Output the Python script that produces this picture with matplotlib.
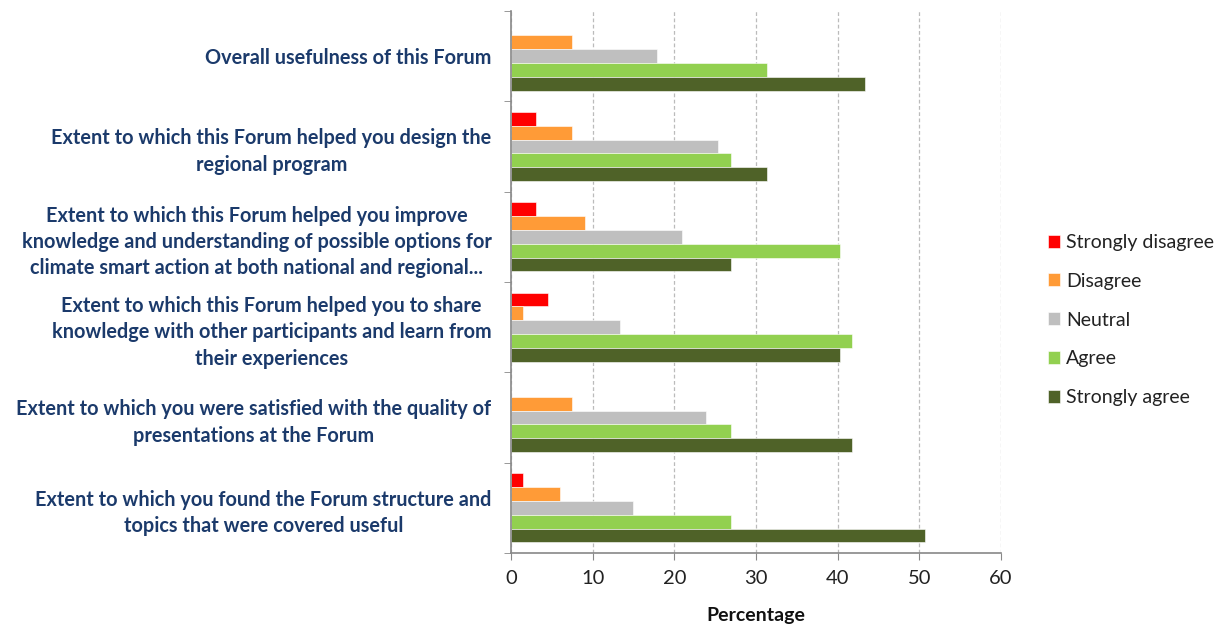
import numpy as np
import matplotlib.pyplot as plt
from matplotlib.ticker import MultipleLocator

questions = [
    "Overall usefulness of this Forum",
    "Extent to which this Forum helped you design the\nregional program",
    "Extent to which this Forum helped you improve\nknowledge and understanding of possible options for\nclimate smart action at both national and regional...",
    "Extent to which this Forum helped you to share\nknowledge with other participants and learn from\ntheir experiences",
    "Extent to which you were satisfied with the quality of\npresentations at the Forum",
    "Extent to which you found the Forum structure and\ntopics that were covered useful",
]
responses = ["Strongly disagree", "Disagree", "Neutral", "Agree", "Strongly agree"]

strongly_disagree = [0.0, 3.0, 3.0, 4.5, 0.0, 1.5]
disagree = [7.5, 7.5, 9.0, 1.5, 7.5, 6.0]
neutral = [17.9, 25.4, 20.9, 13.4, 23.9, 14.9]
agree = [31.3, 26.9, 40.3, 41.8, 26.9, 26.9]
strongly_agree = [43.3, 31.3, 26.9, 40.3, 41.8, 50.7]

series = [strongly_disagree, disagree, neutral, agree, strongly_agree]
colors = ["#FF0000", "#FF9B37", "#BFBFBF", "#92D050", "#4F6228"]

plt.rcParams['font.family'] = ['Lato', 'DejaVu Sans']

fig = plt.figure(figsize=(12.21, 6.27), dpi=100)
ax = fig.add_axes([511 / 1221, 1 - 553 / 627, 490 / 1221, 542 / 627])

y = np.arange(len(questions))
h = 0.153
for j, (vals, col, name) in enumerate(zip(series, colors, responses)):
    ax.barh(y + (j - 2) * h, vals, height=h, color=col, label=name,
            edgecolor='white', linewidth=0.4)

ax.set_xlim(0, 60)
ax.set_ylim(len(questions) - 0.5, -0.5)
ax.xaxis.set_major_locator(MultipleLocator(10))
ax.grid(axis='x', color='#BBBBBB', linestyle=(0, (3, 2)), linewidth=0.9)
ax.set_axisbelow(True)

ax.set_yticks(y)
ax.set_yticklabels(questions, fontsize=14.3, fontweight='bold',
                   color='#1B3A6B', multialignment='center', linespacing=1.4)
ax.tick_params(axis='y', which='major', length=0, pad=14)
ax.set_yticks(np.arange(-0.5, len(questions)), minor=True)
ax.tick_params(axis='y', which='minor', length=5, color='#888888')
ax.tick_params(axis='x', length=5, color='#888888', labelsize=14.5,
               labelcolor='#222222', pad=7)

for s in ['top', 'right']:
    ax.spines[s].set_visible(False)
for s in ['left', 'bottom']:
    ax.spines[s].set_color('#888888')
    ax.spines[s].set_linewidth(1.2)

ax.set_xlabel("Percentage", fontsize=14, fontweight='bold', color='#111111',
              labelpad=15)

fig.legend(loc='center left', bbox_to_anchor=(1030 / 1221, 1 - 320 / 627),
           frameon=False, fontsize=14, handlelength=0.65, handleheight=0.65,
           handletextpad=0.3, labelspacing=1.12, labelcolor='#222222')

fig.savefig("out.png", dpi=100)
